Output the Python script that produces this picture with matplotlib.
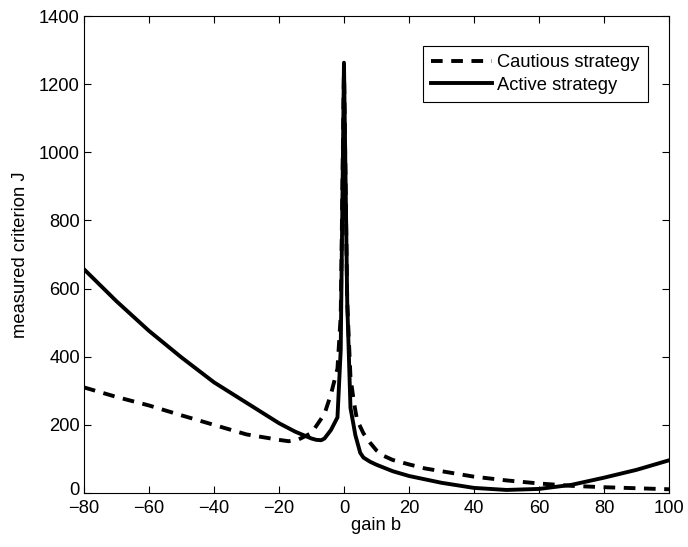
import matplotlib.pyplot as plt
from matplotlib.transforms import ScaledTranslation

plt.rcParams['font.family'] = ['Liberation Sans', 'DejaVu Sans']

# gain b values and measured criterion J for the two strategies
active_b = [-80, -70, -60, -50, -40, -30, -20, -15, -10, -8.5, -7, -6, -4, -2,
            -1, 0, 1, 2, 3.5, 5, 6, 8, 10, 15, 20, 30, 40, 50, 60, 70, 80, 90, 100]
active_J = [657, 563, 476, 398, 325, 265, 205, 180, 160, 156, 155, 160, 185, 222,
            420, 1263, 560, 250, 170, 118, 104, 92, 83, 64, 50, 30, 15, 9, 12, 24, 45, 68, 96]

cautious_b = [-80, -70, -60, -50, -40, -30, -20, -17, -14, -10, -6, -4, -2, -1, 0,
              1, 2, 3, 4, 6, 8, 10, 12, 15, 20, 25, 30, 40, 50, 60, 70, 80, 90, 100]
cautious_J = [310, 282, 257, 228, 200, 172, 156, 152, 157, 176, 232, 290, 365, 520, 1255,
              560, 340, 270, 215, 175, 148, 125, 110, 97, 84, 72, 64, 48, 37, 28, 21, 17, 14, 11]

fs = 13.2

fig = plt.figure(figsize=(6.88, 5.47), dpi=100)
ax = fig.add_axes([0.122, 0.0987, 0.8504, 0.872])

ax.plot(cautious_b, cautious_J, color='black', lw=2.8, linestyle=(0, (3, 2.2)),
        label='Cautious strategy')
ax.plot(active_b, active_J, color='black', lw=2.8, label='Active strategy')

ax.set_xlim(-80, 100)
ax.set_ylim(0, 1400)
ax.set_xticks(range(-80, 101, 20))
ax.set_yticks(range(0, 1401, 200))
ax.set_xticklabels(['\u221280', '\u221260', '\u221240', '\u221220', '0', '20', '40', '60', '80', '100'])
ax.tick_params(direction='in', length=5, width=0.8, top=True, right=True,
               labelsize=fs, pad=3)
ax.tick_params(axis='x', pad=5)
for s in ax.spines.values():
    s.set_linewidth(0.8)

# lift the "0" y label a little so it does not run into "-80"
zero_lbl = ax.yaxis.get_major_ticks()[0].label1
zero_lbl.set_transform(zero_lbl.get_transform() + ScaledTranslation(0, 3 / 72, fig.dpi_scale_trans))

ax.set_xlabel('gain b', fontsize=fs, labelpad=0)
ax.set_ylabel('measured criterion J', fontsize=fs, labelpad=7)

leg = ax.legend(loc='upper right', bbox_to_anchor=(0.964, 0.937), borderaxespad=0,
                fontsize=fs, handlelength=3.3, fancybox=False, framealpha=1,
                edgecolor='black', borderpad=0.45, labelspacing=0.3, handletextpad=0.3)
leg.get_frame().set_linewidth(0.8)

plt.savefig('out.png', dpi=100)
